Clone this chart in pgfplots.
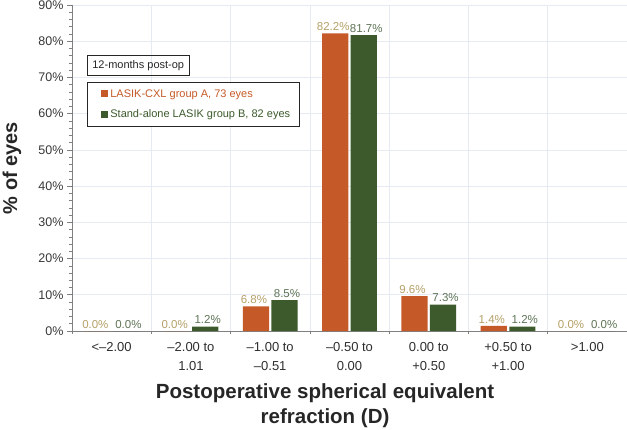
\documentclass[border=0pt]{standalone}
\usepackage{pgfplots}
\pgfplotsset{compat=1.18}
\usepackage{fontspec}
\setmainfont{Liberation Sans}
\definecolor{orA}{HTML}{C55A28}
\definecolor{grB}{HTML}{3C5A2B}
\definecolor{labA}{HTML}{B5A067}
\definecolor{labB}{HTML}{5E7356}
\definecolor{gridc}{HTML}{E6EAF3}
\definecolor{axc}{HTML}{808080}
\begin{document}
\begin{tikzpicture}
\begin{axis}[
  name=ax,
  scale only axis,
  width=555bp, height=326bp,
  xmin=-0.5, xmax=6.5, ymin=0, ymax=90,
  axis lines=left,
  axis line style={-, draw=axc, line width=0.8pt},
  /pgf/number format/assume math mode=true,
  ytick={0,10,...,90},
  minor y tick num=4,
  yticklabel={\pgfmathprintnumber{\tick}\%},
  yticklabel style={font=\fontsize{12.5bp}{14bp}\selectfont, text=black!78},
  ymajorgrids,
  major grid style={draw=gridc, line width=0.6pt},
  minor grid style={draw=gridc, line width=0.6pt},
  xtick={0,...,6},
  xticklabels={{<–2.00},{–2.00 to\\1.01},{–1.00 to\\–0.51},{–0.50 to\\0.00},{0.00 to\\+0.50},{+0.50 to\\+1.00},{>1.00}},
  xticklabel style={font=\fontsize{13bp}{19bp}\selectfont, align=center, text=black!82, yshift=-3bp},
  minor xtick={-0.5,0.5,...,6.5},
  xminorgrids,
  major x tick style={draw=none},
  tick align=outside,
  major tick length=5bp,
  minor tick length=3bp,
  tick style={draw=axc, line width=0.6pt},
  ylabel={\bfseries \% of eyes},
  ylabel style={at={(axis description cs:-0.108,0.5)}, anchor=center, font=\fontsize{20bp}{24bp}\selectfont, text=black!85},
  xlabel={\bfseries Postoperative spherical equivalent\\\bfseries refraction (D)},
  xlabel style={at={(axis description cs:0.456,0)}, anchor=north, yshift=-51bp, align=center, font=\fontsize{20.5bp}{25bp}\selectfont, text=black!85, inner sep=1bp},
  ybar,
  bar width=0.33,
  nodes near coords={\pgfmathprintnumber[fixed,fixed zerofill,precision=1]{\pgfplotspointmeta}\%},
  nodes near coords style={font=\fontsize{11.5bp}{14bp}\selectfont, inner sep=2.5bp},
  legend style={at={(axis description cs:0.027,0.764)}, anchor=north west, draw=black!85, line width=0.8pt,
    font=\fontsize{11bp}{13bp}\selectfont, row sep=7bp, inner xsep=7bp, inner ysep=5bp, cells={anchor=west}},
  legend image code/.code={\path (0bp,0bp); \fill[#1] (7bp,-3.5bp) rectangle (14bp,3.5bp);},
]
\addplot+[bar shift=-0.18, fill=orA, draw=none, every node near coord/.append style={text=labA, xshift=-2bp}]
  coordinates {(0,0.0) (1,0.0) (2,6.8) (3,82.2) (4,9.6) (5,1.4) (6,0.0)};
\addlegendentry{\textcolor{orA}{LASIK-CXL group A, 73 eyes}}
\addplot+[bar shift=0.18, fill=grB, draw=none, every node near coord/.append style={text=labB, xshift=2.5bp}]
  coordinates {(0,0.0) (1,1.2) (2,8.5) (3,81.7) (4,7.3) (5,1.2) (6,0.0)};
\addlegendentry{\textcolor{grB}{Stand-alone LASIK group B, 82 eyes}}
\node[draw=black!85, line width=0.8pt, anchor=north west, font=\fontsize{11bp}{13bp}\selectfont, inner xsep=5bp, inner ysep=5bp, text=black!85]
  at (axis description cs:0.027,0.847) {12-months post-op};
\end{axis}
\pgfresetboundingbox
\path (ax.south west) ++(-72bp,-99bp) rectangle ++(627bp,430bp);
\end{tikzpicture}
\end{document}
